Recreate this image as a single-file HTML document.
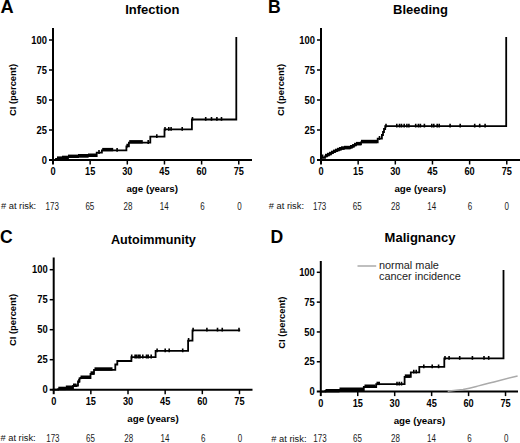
<!DOCTYPE html>
<html><head><meta charset="utf-8"><style>
html,body{margin:0;padding:0;background:#fff;}
svg{display:block;font-family:"Liberation Sans", sans-serif;}
</style></head><body>
<svg width="520" height="443" viewBox="0 0 520 443">
<rect width="520" height="443" fill="#fff"/>
<text x="0.6" y="12.6" font-size="18.2" font-weight="bold" text-anchor="start" fill="#000" >A</text>
<text x="152.3" y="14.4" font-size="13" font-weight="bold" text-anchor="middle" fill="#000" >Infection</text>
<path d="M53,28V164.5" stroke="#000" stroke-width="2" fill="none"/>
<path d="M49,160H252" stroke="#000" stroke-width="2" fill="none"/>
<path d="M49,130.0H53" stroke="#000" stroke-width="1.5" fill="none"/>
<path d="M49,100.0H53" stroke="#000" stroke-width="1.5" fill="none"/>
<path d="M49,70.0H53" stroke="#000" stroke-width="1.5" fill="none"/>
<path d="M49,40.0H53" stroke="#000" stroke-width="1.5" fill="none"/>
<path d="M90.155,160V164.5" stroke="#000" stroke-width="1.5" fill="none"/>
<path d="M127.31,160V164.5" stroke="#000" stroke-width="1.5" fill="none"/>
<path d="M164.46499999999997,160V164.5" stroke="#000" stroke-width="1.5" fill="none"/>
<path d="M201.62,160V164.5" stroke="#000" stroke-width="1.5" fill="none"/>
<path d="M238.77499999999998,160V164.5" stroke="#000" stroke-width="1.5" fill="none"/>
<text x="0" y="0" font-size="9.6" font-weight="bold" text-anchor="end" fill="#000" transform="translate(47.00,163.60) scale(0.98,1.14)">0</text>
<text x="0" y="0" font-size="9.6" font-weight="bold" text-anchor="end" fill="#000" transform="translate(47.00,133.60) scale(0.98,1.14)">25</text>
<text x="0" y="0" font-size="9.6" font-weight="bold" text-anchor="end" fill="#000" transform="translate(47.00,103.60) scale(0.98,1.14)">50</text>
<text x="0" y="0" font-size="9.6" font-weight="bold" text-anchor="end" fill="#000" transform="translate(47.00,73.60) scale(0.98,1.14)">75</text>
<text x="0" y="0" font-size="9.6" font-weight="bold" text-anchor="end" fill="#000" transform="translate(47.00,43.60) scale(0.98,1.14)">100</text>
<text x="0" y="0" font-size="9.6" font-weight="bold" text-anchor="middle" fill="#000" transform="translate(53.00,175.00) scale(0.96,1.14)">0</text>
<text x="0" y="0" font-size="9.6" font-weight="bold" text-anchor="middle" fill="#000" transform="translate(90.16,175.00) scale(0.96,1.14)">15</text>
<text x="0" y="0" font-size="9.6" font-weight="bold" text-anchor="middle" fill="#000" transform="translate(127.31,175.00) scale(0.96,1.14)">30</text>
<text x="0" y="0" font-size="9.6" font-weight="bold" text-anchor="middle" fill="#000" transform="translate(164.46,175.00) scale(0.96,1.14)">45</text>
<text x="0" y="0" font-size="9.6" font-weight="bold" text-anchor="middle" fill="#000" transform="translate(201.62,175.00) scale(0.96,1.14)">60</text>
<text x="0" y="0" font-size="9.6" font-weight="bold" text-anchor="middle" fill="#000" transform="translate(238.77,175.00) scale(0.96,1.14)">75</text>
<text x="152.2" y="191.60000000000002" font-size="9.75" font-weight="bold" text-anchor="middle" fill="#000" >age (years)</text>
<text x="0" y="0" font-size="9.4" font-weight="bold" text-anchor="middle" fill="#000" transform="translate(16.3,90) rotate(-90)">CI (percent)</text>
<text x="1" y="209.1" font-size="8.9" font-weight="normal" text-anchor="start" fill="#111" textLength="35.2" lengthAdjust="spacingAndGlyphs"># at risk:</text>
<text x="0" y="0" font-size="10.0" font-weight="normal" text-anchor="middle" fill="#1a1a1a" transform="translate(52.20,209.80) scale(0.8,1)">173</text>
<text x="0" y="0" font-size="10.0" font-weight="normal" text-anchor="middle" fill="#1a1a1a" transform="translate(89.86,209.80) scale(0.8,1)">65</text>
<text x="0" y="0" font-size="10.0" font-weight="normal" text-anchor="middle" fill="#1a1a1a" transform="translate(128.01,209.80) scale(0.8,1)">28</text>
<text x="0" y="0" font-size="10.0" font-weight="normal" text-anchor="middle" fill="#1a1a1a" transform="translate(164.26,209.80) scale(0.8,1)">14</text>
<text x="0" y="0" font-size="10.0" font-weight="normal" text-anchor="middle" fill="#1a1a1a" transform="translate(202.52,209.80) scale(0.8,1)">6</text>
<text x="0" y="0" font-size="10.0" font-weight="normal" text-anchor="middle" fill="#1a1a1a" transform="translate(239.37,209.80) scale(0.8,1)">0</text>
<path d="M53,160H56V158.9H62V158.2H68V157.1H78V156.5H88V156H96.7V152.6H101.9V150.4H126.4V146.3H128.9V142.6H150.3V136.7H164.5V129.4H191.9V119.5H236.3V37.9" stroke="#000" stroke-width="1.8" fill="none" stroke-linejoin="miter" stroke-linecap="square"/>
<path d="M99,150.1V153.9M117.1,147.9V151.70000000000002M127.2,143.8V147.60000000000002M148.2,140.1V143.9M156.8,134.2V138.0M165,126.9V130.70000000000002M168.8,126.9V130.70000000000002M171.1,126.9V130.70000000000002M182.2,126.9V130.70000000000002M192.5,117.0V120.8M205.7,117.0V120.8M211.5,117.0V120.8M216.9,117.0V120.8M221.5,117.0V120.8" stroke="#000" stroke-width="1.6" fill="none"/>
<rect x="57" y="156.4" width="5" height="3.4" fill="#000"/>
<rect x="62" y="155.7" width="6" height="3.4" fill="#000"/>
<rect x="68" y="154.6" width="10" height="3.4" fill="#000"/>
<rect x="78" y="154.0" width="10" height="3.4" fill="#000"/>
<rect x="88" y="153.5" width="8.200000000000003" height="3.4" fill="#000"/>
<rect x="102.2" y="147.9" width="11.0" height="3.4" fill="#000"/>
<rect x="129.2" y="140.1" width="13.600000000000023" height="3.4" fill="#000"/>
<text x="268.1" y="12.7" font-size="17.6" font-weight="bold" text-anchor="start" fill="#000" >B</text>
<text x="420.5" y="14.4" font-size="13" font-weight="bold" text-anchor="middle" fill="#000" >Bleeding</text>
<path d="M321,28V164.5" stroke="#000" stroke-width="2" fill="none"/>
<path d="M317,160H521" stroke="#000" stroke-width="2" fill="none"/>
<path d="M317,130.0H321" stroke="#000" stroke-width="1.5" fill="none"/>
<path d="M317,100.0H321" stroke="#000" stroke-width="1.5" fill="none"/>
<path d="M317,70.0H321" stroke="#000" stroke-width="1.5" fill="none"/>
<path d="M317,40.0H321" stroke="#000" stroke-width="1.5" fill="none"/>
<path d="M358.155,160V164.5" stroke="#000" stroke-width="1.5" fill="none"/>
<path d="M395.31,160V164.5" stroke="#000" stroke-width="1.5" fill="none"/>
<path d="M432.465,160V164.5" stroke="#000" stroke-width="1.5" fill="none"/>
<path d="M469.62,160V164.5" stroke="#000" stroke-width="1.5" fill="none"/>
<path d="M506.775,160V164.5" stroke="#000" stroke-width="1.5" fill="none"/>
<text x="0" y="0" font-size="9.6" font-weight="bold" text-anchor="end" fill="#000" transform="translate(315.00,163.60) scale(0.98,1.14)">0</text>
<text x="0" y="0" font-size="9.6" font-weight="bold" text-anchor="end" fill="#000" transform="translate(315.00,133.60) scale(0.98,1.14)">25</text>
<text x="0" y="0" font-size="9.6" font-weight="bold" text-anchor="end" fill="#000" transform="translate(315.00,103.60) scale(0.98,1.14)">50</text>
<text x="0" y="0" font-size="9.6" font-weight="bold" text-anchor="end" fill="#000" transform="translate(315.00,73.60) scale(0.98,1.14)">75</text>
<text x="0" y="0" font-size="9.6" font-weight="bold" text-anchor="end" fill="#000" transform="translate(315.00,43.60) scale(0.98,1.14)">100</text>
<text x="0" y="0" font-size="9.6" font-weight="bold" text-anchor="middle" fill="#000" transform="translate(321.00,175.00) scale(0.96,1.14)">0</text>
<text x="0" y="0" font-size="9.6" font-weight="bold" text-anchor="middle" fill="#000" transform="translate(358.15,175.00) scale(0.96,1.14)">15</text>
<text x="0" y="0" font-size="9.6" font-weight="bold" text-anchor="middle" fill="#000" transform="translate(395.31,175.00) scale(0.96,1.14)">30</text>
<text x="0" y="0" font-size="9.6" font-weight="bold" text-anchor="middle" fill="#000" transform="translate(432.46,175.00) scale(0.96,1.14)">45</text>
<text x="0" y="0" font-size="9.6" font-weight="bold" text-anchor="middle" fill="#000" transform="translate(469.62,175.00) scale(0.96,1.14)">60</text>
<text x="0" y="0" font-size="9.6" font-weight="bold" text-anchor="middle" fill="#000" transform="translate(506.77,175.00) scale(0.96,1.14)">75</text>
<text x="420.2" y="191.60000000000002" font-size="9.75" font-weight="bold" text-anchor="middle" fill="#000" >age (years)</text>
<text x="0" y="0" font-size="9.4" font-weight="bold" text-anchor="middle" fill="#000" transform="translate(284.3,90) rotate(-90)">CI (percent)</text>
<text x="268.8" y="209.1" font-size="8.9" font-weight="normal" text-anchor="start" fill="#111" textLength="35.2" lengthAdjust="spacingAndGlyphs"># at risk:</text>
<text x="0" y="0" font-size="10.0" font-weight="normal" text-anchor="middle" fill="#1a1a1a" transform="translate(319.60,209.80) scale(0.8,1)">173</text>
<text x="0" y="0" font-size="10.0" font-weight="normal" text-anchor="middle" fill="#1a1a1a" transform="translate(357.25,209.80) scale(0.8,1)">65</text>
<text x="0" y="0" font-size="10.0" font-weight="normal" text-anchor="middle" fill="#1a1a1a" transform="translate(395.41,209.80) scale(0.8,1)">28</text>
<text x="0" y="0" font-size="10.0" font-weight="normal" text-anchor="middle" fill="#1a1a1a" transform="translate(431.66,209.80) scale(0.8,1)">14</text>
<text x="0" y="0" font-size="10.0" font-weight="normal" text-anchor="middle" fill="#1a1a1a" transform="translate(469.92,209.80) scale(0.8,1)">6</text>
<text x="0" y="0" font-size="10.0" font-weight="normal" text-anchor="middle" fill="#1a1a1a" transform="translate(506.77,209.80) scale(0.8,1)">0</text>
<path d="M321,160V157H322.6V157.8H325V156.3H327V155.3H329V154.3H331V153.2H333V152.1H335V151.2H337V150.3H339V149.5H341V148.8H344V148.3H350V147.5H352V146.6H354V145.3H356V144.4H361V142.3H377.7V138.6H381.9V135H383V132H384V129H385.2V126.2H506.2V37.9" stroke="#000" stroke-width="1.8" fill="none" stroke-linejoin="miter" stroke-linecap="square"/>
<path d="M322.6,154.5V158.3M379.5,136.1V139.9M386,123.7V127.5M396.8,123.7V127.5M399.5,123.7V127.5M401.5,123.7V127.5M404.2,123.7V127.5M406.9,123.7V127.5M408.9,123.7V127.5M415.7,123.7V127.5M418.4,123.7V127.5M420.4,123.7V127.5M424.4,123.7V127.5M431.8,123.7V127.5M433.8,123.7V127.5M437.2,123.7V127.5M439.2,123.7V127.5M450.1,123.7V127.5M460.2,123.7V127.5M474.7,123.7V127.5M479.7,123.7V127.5M485.1,123.7V127.5" stroke="#000" stroke-width="1.6" fill="none"/>
<rect x="325" y="153.8" width="2" height="3.4" fill="#000"/>
<rect x="327" y="152.8" width="2" height="3.4" fill="#000"/>
<rect x="329" y="151.8" width="2" height="3.4" fill="#000"/>
<rect x="331" y="150.7" width="2" height="3.4" fill="#000"/>
<rect x="333" y="149.6" width="2" height="3.4" fill="#000"/>
<rect x="335" y="148.7" width="2" height="3.4" fill="#000"/>
<rect x="337" y="147.8" width="2" height="3.4" fill="#000"/>
<rect x="339" y="147.0" width="2" height="3.4" fill="#000"/>
<rect x="341" y="146.3" width="3" height="3.4" fill="#000"/>
<rect x="344" y="145.8" width="6" height="3.4" fill="#000"/>
<rect x="350" y="145.0" width="2" height="3.4" fill="#000"/>
<rect x="352" y="144.1" width="2" height="3.4" fill="#000"/>
<rect x="354" y="142.8" width="2" height="3.4" fill="#000"/>
<rect x="356" y="141.9" width="5" height="3.4" fill="#000"/>
<rect x="361" y="139.8" width="16" height="3.4" fill="#000"/>
<text x="0.0" y="243.2" font-size="17.6" font-weight="bold" text-anchor="start" fill="#000" >C</text>
<text x="153.4" y="243.6" font-size="13" font-weight="bold" text-anchor="middle" fill="#000" textLength="85" lengthAdjust="spacingAndGlyphs">Autoimmunity</text>
<path d="M53.7,257.5V394.2" stroke="#000" stroke-width="2" fill="none"/>
<path d="M49.7,389.7H252.5" stroke="#000" stroke-width="2" fill="none"/>
<path d="M49.7,359.7H53.7" stroke="#000" stroke-width="1.5" fill="none"/>
<path d="M49.7,329.7H53.7" stroke="#000" stroke-width="1.5" fill="none"/>
<path d="M49.7,299.7H53.7" stroke="#000" stroke-width="1.5" fill="none"/>
<path d="M49.7,269.7H53.7" stroke="#000" stroke-width="1.5" fill="none"/>
<path d="M90.855,389.7V394.2" stroke="#000" stroke-width="1.5" fill="none"/>
<path d="M128.01,389.7V394.2" stroke="#000" stroke-width="1.5" fill="none"/>
<path d="M165.165,389.7V394.2" stroke="#000" stroke-width="1.5" fill="none"/>
<path d="M202.32,389.7V394.2" stroke="#000" stroke-width="1.5" fill="none"/>
<path d="M239.47499999999997,389.7V394.2" stroke="#000" stroke-width="1.5" fill="none"/>
<text x="0" y="0" font-size="9.6" font-weight="bold" text-anchor="end" fill="#000" transform="translate(47.70,393.30) scale(0.98,1.14)">0</text>
<text x="0" y="0" font-size="9.6" font-weight="bold" text-anchor="end" fill="#000" transform="translate(47.70,363.30) scale(0.98,1.14)">25</text>
<text x="0" y="0" font-size="9.6" font-weight="bold" text-anchor="end" fill="#000" transform="translate(47.70,333.30) scale(0.98,1.14)">50</text>
<text x="0" y="0" font-size="9.6" font-weight="bold" text-anchor="end" fill="#000" transform="translate(47.70,303.30) scale(0.98,1.14)">75</text>
<text x="0" y="0" font-size="9.6" font-weight="bold" text-anchor="end" fill="#000" transform="translate(47.70,273.30) scale(0.98,1.14)">100</text>
<text x="0" y="0" font-size="9.6" font-weight="bold" text-anchor="middle" fill="#000" transform="translate(53.70,404.70) scale(0.96,1.14)">0</text>
<text x="0" y="0" font-size="9.6" font-weight="bold" text-anchor="middle" fill="#000" transform="translate(90.86,404.70) scale(0.96,1.14)">15</text>
<text x="0" y="0" font-size="9.6" font-weight="bold" text-anchor="middle" fill="#000" transform="translate(128.01,404.70) scale(0.96,1.14)">30</text>
<text x="0" y="0" font-size="9.6" font-weight="bold" text-anchor="middle" fill="#000" transform="translate(165.16,404.70) scale(0.96,1.14)">45</text>
<text x="0" y="0" font-size="9.6" font-weight="bold" text-anchor="middle" fill="#000" transform="translate(202.32,404.70) scale(0.96,1.14)">60</text>
<text x="0" y="0" font-size="9.6" font-weight="bold" text-anchor="middle" fill="#000" transform="translate(239.47,404.70) scale(0.96,1.14)">75</text>
<text x="153" y="421.6" font-size="9.75" font-weight="bold" text-anchor="middle" fill="#000" >age (years)</text>
<text x="0" y="0" font-size="9.4" font-weight="bold" text-anchor="middle" fill="#000" transform="translate(16.3,320) rotate(-90)">CI (percent)</text>
<text x="0.5" y="440.9" font-size="8.9" font-weight="normal" text-anchor="start" fill="#111" textLength="35.2" lengthAdjust="spacingAndGlyphs"># at risk:</text>
<text x="0" y="0" font-size="10.0" font-weight="normal" text-anchor="middle" fill="#1a1a1a" transform="translate(52.90,441.60) scale(0.8,1)">173</text>
<text x="0" y="0" font-size="10.0" font-weight="normal" text-anchor="middle" fill="#1a1a1a" transform="translate(90.56,441.60) scale(0.8,1)">65</text>
<text x="0" y="0" font-size="10.0" font-weight="normal" text-anchor="middle" fill="#1a1a1a" transform="translate(128.71,441.60) scale(0.8,1)">28</text>
<text x="0" y="0" font-size="10.0" font-weight="normal" text-anchor="middle" fill="#1a1a1a" transform="translate(164.97,441.60) scale(0.8,1)">14</text>
<text x="0" y="0" font-size="10.0" font-weight="normal" text-anchor="middle" fill="#1a1a1a" transform="translate(203.22,441.60) scale(0.8,1)">6</text>
<text x="0" y="0" font-size="10.0" font-weight="normal" text-anchor="middle" fill="#1a1a1a" transform="translate(240.07,441.60) scale(0.8,1)">0</text>
<path d="M53.5,389.7H58.1V389.2H65.8V388H73V386H76.5V385.5H78V381.5H79.5V378.3H80.5V378H90.5V373.8H94V369.8H115.3V364.5H117.3V361H131.4V357.1H155.6V350.9H188.1V340.6H192.5V330.3H239.3" stroke="#000" stroke-width="1.8" fill="none" stroke-linejoin="miter" stroke-linecap="square"/>
<path d="M79,379.0V382.8M131.7,354.6V358.40000000000003M135.1,354.6V358.40000000000003M136.6,354.6V358.40000000000003M138.5,354.6V358.40000000000003M140,354.6V358.40000000000003M142.8,354.6V358.40000000000003M146.5,354.6V358.40000000000003M148.2,354.6V358.40000000000003M151.2,354.6V358.40000000000003M157.1,348.4V352.2M165.2,348.4V352.2M169.2,348.4V352.2M182.7,348.4V352.2M188.6,338.1V341.90000000000003M193.1,327.8V331.6M206.9,327.8V331.6M217.5,327.8V331.6M222.25,327.8V331.6M239,327.8V331.6" stroke="#000" stroke-width="1.6" fill="none"/>
<rect x="58.3" y="386.7" width="7.5" height="3.4" fill="#000"/>
<rect x="65.8" y="385.5" width="7.200000000000003" height="3.4" fill="#000"/>
<rect x="73" y="383.5" width="3.5" height="3.4" fill="#000"/>
<rect x="80.5" y="375.5" width="10.0" height="3.4" fill="#000"/>
<rect x="90.5" y="371.3" width="3.5" height="3.4" fill="#000"/>
<rect x="94.5" y="367.3" width="18.0" height="3.4" fill="#000"/>
<text x="270.5" y="243.0" font-size="17.6" font-weight="bold" text-anchor="start" fill="#000" >D</text>
<text x="420" y="241.8" font-size="13" font-weight="bold" text-anchor="middle" fill="#000" >Malignancy</text>
<path d="M320.8,261V396.1" stroke="#000" stroke-width="2" fill="none"/>
<path d="M316.8,391.6H518" stroke="#000" stroke-width="2" fill="none"/>
<path d="M316.8,361.77500000000003H320.8" stroke="#000" stroke-width="1.5" fill="none"/>
<path d="M316.8,331.95000000000005H320.8" stroke="#000" stroke-width="1.5" fill="none"/>
<path d="M316.8,302.125H320.8" stroke="#000" stroke-width="1.5" fill="none"/>
<path d="M316.8,272.3H320.8" stroke="#000" stroke-width="1.5" fill="none"/>
<path d="M357.745,391.6V396.1" stroke="#000" stroke-width="1.5" fill="none"/>
<path d="M394.69,391.6V396.1" stroke="#000" stroke-width="1.5" fill="none"/>
<path d="M431.635,391.6V396.1" stroke="#000" stroke-width="1.5" fill="none"/>
<path d="M468.58000000000004,391.6V396.1" stroke="#000" stroke-width="1.5" fill="none"/>
<path d="M505.525,391.6V396.1" stroke="#000" stroke-width="1.5" fill="none"/>
<text x="0" y="0" font-size="9.6" font-weight="bold" text-anchor="end" fill="#000" transform="translate(314.80,395.20) scale(0.98,1.14)">0</text>
<text x="0" y="0" font-size="9.6" font-weight="bold" text-anchor="end" fill="#000" transform="translate(314.80,365.38) scale(0.98,1.14)">25</text>
<text x="0" y="0" font-size="9.6" font-weight="bold" text-anchor="end" fill="#000" transform="translate(314.80,335.55) scale(0.98,1.14)">50</text>
<text x="0" y="0" font-size="9.6" font-weight="bold" text-anchor="end" fill="#000" transform="translate(314.80,305.73) scale(0.98,1.14)">75</text>
<text x="0" y="0" font-size="9.6" font-weight="bold" text-anchor="end" fill="#000" transform="translate(314.80,275.90) scale(0.98,1.14)">100</text>
<text x="0" y="0" font-size="9.6" font-weight="bold" text-anchor="middle" fill="#000" transform="translate(320.80,406.60) scale(0.96,1.14)">0</text>
<text x="0" y="0" font-size="9.6" font-weight="bold" text-anchor="middle" fill="#000" transform="translate(357.75,406.60) scale(0.96,1.14)">15</text>
<text x="0" y="0" font-size="9.6" font-weight="bold" text-anchor="middle" fill="#000" transform="translate(394.69,406.60) scale(0.96,1.14)">30</text>
<text x="0" y="0" font-size="9.6" font-weight="bold" text-anchor="middle" fill="#000" transform="translate(431.63,406.60) scale(0.96,1.14)">45</text>
<text x="0" y="0" font-size="9.6" font-weight="bold" text-anchor="middle" fill="#000" transform="translate(468.58,406.60) scale(0.96,1.14)">60</text>
<text x="0" y="0" font-size="9.6" font-weight="bold" text-anchor="middle" fill="#000" transform="translate(505.52,406.60) scale(0.96,1.14)">75</text>
<text x="419.4" y="423.8" font-size="9.75" font-weight="bold" text-anchor="middle" fill="#000" >age (years)</text>
<text x="0" y="0" font-size="9.4" font-weight="bold" text-anchor="middle" fill="#000" transform="translate(284.5,322.6) rotate(-90)">CI (percent)</text>
<text x="271.3" y="441.5" font-size="8.9" font-weight="normal" text-anchor="start" fill="#111" textLength="35.2" lengthAdjust="spacingAndGlyphs"># at risk:</text>
<text x="0" y="0" font-size="10.0" font-weight="normal" text-anchor="middle" fill="#1a1a1a" transform="translate(320.00,442.20) scale(0.8,1)">173</text>
<text x="0" y="0" font-size="10.0" font-weight="normal" text-anchor="middle" fill="#1a1a1a" transform="translate(357.44,442.20) scale(0.8,1)">65</text>
<text x="0" y="0" font-size="10.0" font-weight="normal" text-anchor="middle" fill="#1a1a1a" transform="translate(395.39,442.20) scale(0.8,1)">28</text>
<text x="0" y="0" font-size="10.0" font-weight="normal" text-anchor="middle" fill="#1a1a1a" transform="translate(431.43,442.20) scale(0.8,1)">14</text>
<text x="0" y="0" font-size="10.0" font-weight="normal" text-anchor="middle" fill="#1a1a1a" transform="translate(469.48,442.20) scale(0.8,1)">6</text>
<text x="0" y="0" font-size="10.0" font-weight="normal" text-anchor="middle" fill="#1a1a1a" transform="translate(506.12,442.20) scale(0.8,1)">0</text>
<path d="M320.8,391.6H325.3V390.8H339.2V390H363.8V387H376.2V384.2H404.6V376.9H410.8V372.3H419.3V366.9H444.3V358.4H503.5V270.9" stroke="#000" stroke-width="1.8" fill="none" stroke-linejoin="miter" stroke-linecap="square"/>
<path d="M397,381.7V385.5M399.2,381.7V385.5M401.5,381.7V385.5M413.8,369.8V373.6M416.2,369.8V373.6M423.8,364.4V368.2M432.2,364.4V368.2M438.6,364.4V368.2M445,355.9V359.7M449.1,355.9V359.7M459.7,355.9V359.7M472.4,355.9V359.7M484,355.9V359.7M488.7,355.9V359.7" stroke="#000" stroke-width="1.6" fill="none"/>
<rect x="325.5" y="389.0" width="14.0" height="3.4" fill="#000"/>
<rect x="339.5" y="387.5" width="24.30000000000001" height="3.4" fill="#000"/>
<rect x="364.5" y="384.5" width="11.0" height="3.4" fill="#000"/>
<rect x="376.5" y="381.7" width="3.5" height="3.4" fill="#000"/>
<rect x="404.8" y="374.4" width="5.399999999999977" height="3.4" fill="#000"/>
<path d="M447.7,391.2C454,390.6 458,390.3 463,389.6C470,388.3 474,387.1 478.5,385.9C484,384.4 489,383.2 494,381.9C502,379.9 510,377.9 517.6,375.9" stroke="#aaa" stroke-width="1.5" fill="none"/>
<path d="M357.5,266H376.2" stroke="#aaa" stroke-width="1.5" fill="none"/>
<text x="379" y="269.1" font-size="10.9" font-weight="normal" text-anchor="start" fill="#222" >normal male</text>
<text x="379" y="280.2" font-size="10.9" font-weight="normal" text-anchor="start" fill="#222" >cancer incidence</text>
</svg>
</body></html>
